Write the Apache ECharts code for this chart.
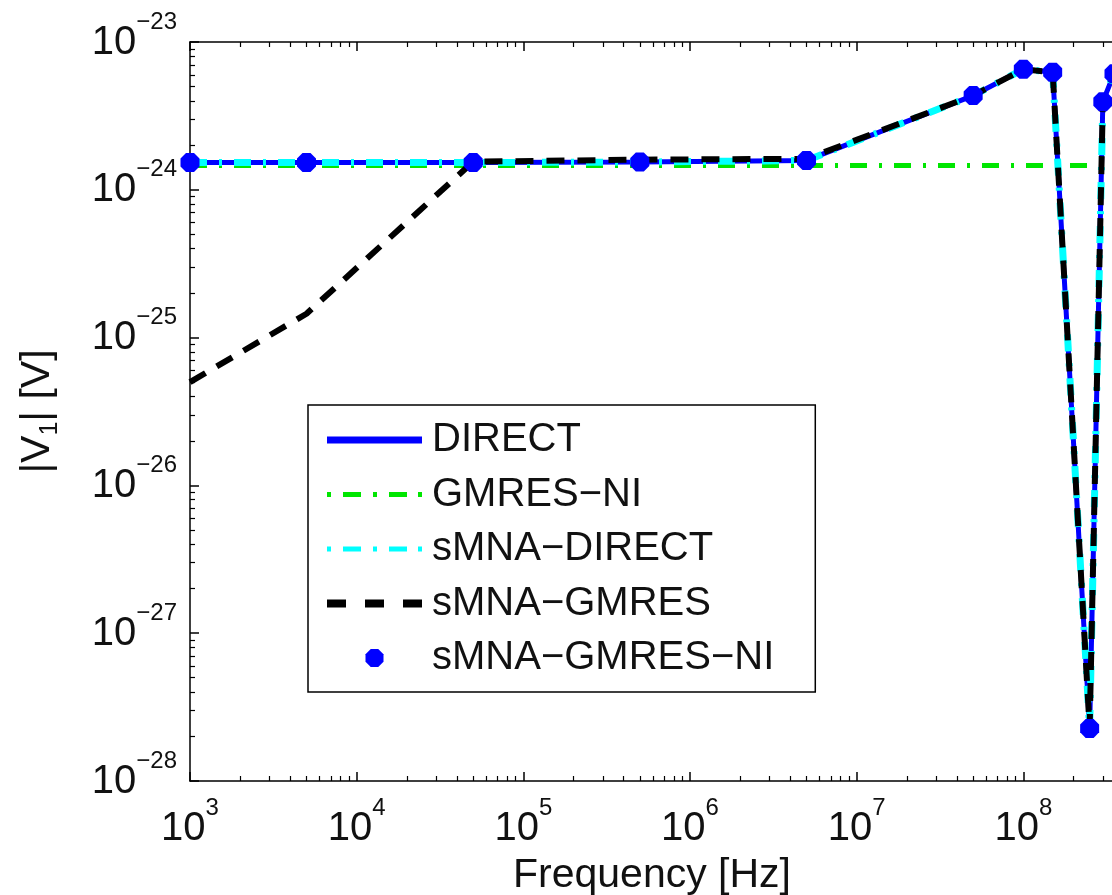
<!DOCTYPE html>
<html>
<head>
<meta charset="utf-8">
<script src="https://cdn.jsdelivr.net/npm/echarts@6/dist/echarts.min.js"></script>
<style>
  html, body { margin: 0; padding: 0; background: #fff; }
  #chart { width: 1112px; height: 895px; }
</style>
</head>
<body>
<div id="chart"></div>
<script>
// Frequency sweep of |V1| for the different solver variants
const freq = [1e3, 5e3, 5e4, 5e5, 5e6, 5e7, 1e8, 1.5e8, 2.5e8, 3e8, 3.5e8];
const direct      = [1.53e-24, 1.53e-24, 1.53e-24, 1.54e-24, 1.58e-24, 4.34e-24, 6.54e-24, 6.24e-24, 2.27e-28, 3.94e-24, 6.1e-24];
const gmresNI     = [1.46e-24, 1.46e-24, 1.46e-24, 1.46e-24, 1.46e-24, 1.46e-24, 1.46e-24, 1.46e-24, 1.46e-24, 1.46e-24, 1.46e-24];
const smnaDirect  = [1.53e-24, 1.53e-24, 1.53e-24, 1.54e-24, 1.58e-24, 4.34e-24, 6.54e-24, 6.24e-24, 2.27e-28, 3.94e-24, 6.1e-24];
const smnaGmres   = [5.0e-26, 1.45e-25, 1.55e-24, 1.60e-24, 1.62e-24, 4.34e-24, 6.54e-24, 6.24e-24, 2.27e-28, 3.94e-24, 6.1e-24];
const smnaGmresNI = [1.53e-24, 1.53e-24, 1.53e-24, 1.54e-24, 1.58e-24, 4.34e-24, 6.54e-24, 6.24e-24, 2.27e-28, 3.94e-24, 6.1e-24];

const seriesNames = ['DIRECT', 'GMRES\u2212NI', 'sMNA\u2212DIRECT', 'sMNA\u2212GMRES', 'sMNA\u2212GMRES\u2212NI'];

// Axis ticks: decades (exponents) and the 2..9 subdivisions
const xMin = 1e3, xMax = 3.5e8;
const xDecades = [1e3, 1e4, 1e5, 1e6, 1e7, 1e8];
const yExpMin = -28, yExpMax = -23;
const yExponents = [-28, -27, -26, -25, -24, -23];
const subSteps = [2, 3, 4, 5, 6, 7, 8, 9];

const xMinor = [];
xDecades.forEach(d => subSteps.forEach(k => { if (d * k < xMax) xMinor.push(d * k); }));
const yMinorExp = [];
yExponents.slice(0, -1).forEach(e => subSteps.forEach(k => yMinorExp.push(e + Math.log10(k))));

const FONT = '"Liberation Sans", Arial, Helvetica, sans-serif';
const INK = '#111';
const CLEAR = 'rgba(0,0,0,0)';

// "10" with a raised exponent: the exponent sits on a thin first line,
// the base on the second; hidden twins keep both lines the same width.
function expText(e) {
  const sup = (e < 0 ? '\u2212' : '') + Math.abs(e);
  return '{hb|10}{s|' + sup + '}\n{b|10}{hs|' + sup + '}';
}
const powRich = {
  s:  { fontSize: 24, lineHeight: 1, fontFamily: FONT, color: INK },
  hb: { fontSize: 40, lineHeight: 1, fontFamily: FONT, color: CLEAR },
  b:  { fontSize: 40, lineHeight: 40, fontFamily: FONT, color: INK },
  hs: { fontSize: 24, lineHeight: 40, fontFamily: FONT, color: CLEAR }
};

const axisLineStyle = { show: true, onZero: false, lineStyle: { color: '#000', width: 1.5 } };
const majorTickStyle = { color: '#000', width: 1.5 };
const minorTickStyle = { color: '#000', width: 1.2 };

function bare(extra) {
  return Object.assign({
    gridIndex: 0,
    splitLine: { show: false }, axisLine: { show: false },
    axisLabel: { show: false }, axisTick: { show: false }
  }, extra);
}

const option = {
  backgroundColor: '#fff',
  animation: false,
  grid: { left: 190, top: 42, width: 924, height: 739, outerBoundsMode: 'none', containLabel: false },
  xAxis: [
    bare({
      type: 'log', logBase: 10, min: xMin, max: xMax, position: 'bottom',
      axisLine: axisLineStyle,
      axisTick: { show: true, inside: true, length: 9, customValues: xDecades, lineStyle: majorTickStyle },
      axisLabel: {
        show: true, customValues: xDecades, margin: 27, hideOverlap: false,
        formatter: v => expText(Math.round(Math.log10(v))), rich: powRich
      },
      name: 'Frequency [Hz]', nameLocation: 'middle', nameGap: 74,
      nameTextStyle: { fontSize: 41, lineHeight: 41, fontFamily: FONT, color: INK }
    }),
    bare({ type: 'log', logBase: 10, min: xMin, max: xMax, position: 'bottom',
      axisTick: { show: true, inside: true, length: 5, customValues: xMinor, lineStyle: minorTickStyle } }),
    bare({ type: 'log', logBase: 10, min: xMin, max: xMax, position: 'top', axisLine: axisLineStyle,
      axisTick: { show: true, inside: true, length: 9, customValues: xDecades, lineStyle: majorTickStyle } }),
    bare({ type: 'log', logBase: 10, min: xMin, max: xMax, position: 'top',
      axisTick: { show: true, inside: true, length: 5, customValues: xMinor, lineStyle: minorTickStyle } })
  ],
  yAxis: [
    // data axis (log scale) – ticks and labels come from the exponent axes below
    bare({ type: 'log', logBase: 10, min: Math.pow(10, yExpMin), max: Math.pow(10, yExpMax), position: 'left' }),
    bare({
      type: 'value', min: yExpMin, max: yExpMax, position: 'left',
      axisLine: axisLineStyle,
      axisTick: { show: true, inside: true, length: 9, customValues: yExponents, lineStyle: majorTickStyle },
      axisLabel: {
        show: true, customValues: yExponents, margin: 13, hideOverlap: false,
        formatter: v => expText(Math.round(v)), rich: powRich
      },
      name: '{v||V}{s|1}{v|| [V]}', nameLocation: 'middle', nameGap: 132,
      nameTextStyle: {
        fontFamily: FONT, color: INK,
        rich: {
          v: { fontSize: 41, lineHeight: 41, verticalAlign: 'top', fontFamily: FONT, color: INK },
          s: { fontSize: 25, lineHeight: 25, padding: [21, 0, 0, 0], verticalAlign: 'top', fontFamily: FONT, color: INK }
        }
      }
    }),
    bare({ type: 'value', min: yExpMin, max: yExpMax, position: 'left',
      axisTick: { show: true, inside: true, length: 5, customValues: yMinorExp, lineStyle: minorTickStyle } })
  ],
  legend: {
    orient: 'vertical',
    left: 308, top: 405,
    padding: [15, 41, 14, 19],
    itemWidth: 95, itemHeight: 18, itemGap: 14.5,
    symbolKeepAspect: true,
    itemStyle: { borderWidth: 0 },
    backgroundColor: '#fff', borderColor: '#000', borderWidth: 1.5, borderRadius: 0,
    textStyle: { fontSize: 40, lineHeight: 40, padding: [0, 0, 0, 5], fontFamily: FONT, color: INK },
    data: [
      { name: seriesNames[0], icon: 'path://M0,0 H95 V7 H0 Z' },
      { name: seriesNames[1], icon: 'path://M0,0 H4 V5 H0 Z M16,0 H34 V5 H16 Z M46,0 H50 V5 H46 Z M62,0 H80 V5 H62 Z M91,0 H95 V5 H91 Z' },
      { name: seriesNames[2], icon: 'path://M0,0 H4 V5 H0 Z M16,0 H34 V5 H16 Z M46,0 H50 V5 H46 Z M62,0 H80 V5 H62 Z M91,0 H95 V5 H91 Z' },
      { name: seriesNames[3], icon: 'path://M0,0 H19 V8 H0 Z M38,0 H57 V8 H38 Z M76,0 H95 V8 H76 Z' },
      { name: seriesNames[4], icon: 'path://M29,0 L71,0 L100,29 L100,71 L71,100 L29,100 L0,71 L0,29 Z' }
    ]
  },
  series: [
    {
      name: seriesNames[0], type: 'line', xAxisIndex: 0, yAxisIndex: 0,
      data: freq.map((f, i) => [f, direct[i]]),
      symbol: 'none', lineStyle: { color: '#0000ff', width: 5 }, itemStyle: { color: '#0000ff' }
    },
    {
      name: seriesNames[1], type: 'line', xAxisIndex: 0, yAxisIndex: 0,
      data: freq.map((f, i) => [f, gmresNI[i]]),
      symbol: 'none', lineStyle: { color: '#00e600', width: 5, type: [17, 12, 3, 12] }, itemStyle: { color: '#00e600' }
    },
    {
      name: seriesNames[2], type: 'line', xAxisIndex: 0, yAxisIndex: 0,
      data: freq.map((f, i) => [f, smnaDirect[i]]),
      symbol: 'none', lineStyle: { color: '#00ffff', width: 7, type: [17, 12, 3, 12] }, itemStyle: { color: '#00ffff' }
    },
    {
      name: seriesNames[3], type: 'line', xAxisIndex: 0, yAxisIndex: 0,
      data: freq.map((f, i) => [f, smnaGmres[i]]),
      symbol: 'none', lineStyle: { color: '#000000', width: 6, type: [18, 13] }, itemStyle: { color: '#000000' }
    },
    {
      name: seriesNames[4], type: 'line', xAxisIndex: 0, yAxisIndex: 0,
      data: freq.map((f, i) => [f, smnaGmresNI[i]]),
      symbol: 'path://M29,0 L71,0 L100,29 L100,71 L71,100 L29,100 L0,71 L0,29 Z',
      symbolSize: 19, showSymbol: true,
      lineStyle: { opacity: 0, width: 0 }, itemStyle: { color: '#0000ff' }
    }
  ]
};

const chart = echarts.init(document.getElementById('chart'), null, { renderer: 'canvas' });
chart.setOption(option);
</script>
</body>
</html>
